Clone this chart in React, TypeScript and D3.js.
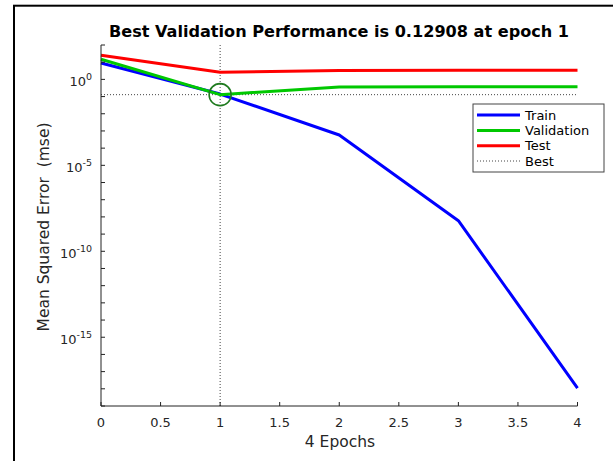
import React from "react";
import * as d3 from "d3";

// Epoch index and mean squared error per data split
const epochs = [0, 1, 2, 3, 4];
const trainMse = [9.0, 0.14, 5.8e-4, 6.0e-9, 1.1e-18];
const validationMse = [14.8, 0.12908, 0.36, 0.37, 0.37];
const testMse = [25, 2.6, 3.3, 3.4, 3.4];

const bestEpoch = 1;
const bestValue = 0.12908;

const xTicks = [0, 0.5, 1, 1.5, 2, 2.5, 3, 3.5, 4];
const yLabelExponents = [0, -5, -10, -15];

const seriesNames = ["Train", "Validation", "Test", "Best"];
const seriesColors = ["#0000ff", "#00c800", "#ff0000"];

const W = 613;
const H = 461;
const FONT = "'DejaVu Sans', sans-serif";

export default function App() {
  const x = d3.scaleLinear().domain([0, 4]).range([101, 577.5]);
  const y = d3.scaleLog().domain([1e-19, 1e2]).range([406, 45]);

  const line = d3
    .line<number>()
    .x((_, i) => x(epochs[i]))
    .y((d) => y(d));

  const decadeTicks = d3.range(-19, 3).map((e) => Math.pow(10, e));
  const series = [trainMse, validationMse, testMse];

  const legendX = 473;
  const legendY = 104;
  const legendRows = [115, 130.5, 145.7, 161];

  return (
    <svg
      width={W}
      height={H}
      style={{ position: "fixed", left: 0, top: 0, background: "#fff" }}
      fontFamily={FONT}
    >
      <rect x={0} y={0} width={W} height={H} fill="#fff" />
      {/* figure frame */}
      <rect x={14} y={5.7} width={W + 20} height={H + 20} fill="none" stroke="#000" strokeWidth={2} />

      {/* title */}
      <text x={339} y={37} textAnchor="middle" fontSize={16.1} fontWeight="bold" fill="#000">
        Best Validation Performance is 0.12908 at epoch 1
      </text>

      {/* best markers */}
      <line
        x1={x(0)}
        x2={x(4)}
        y1={y(bestValue)}
        y2={y(bestValue)}
        stroke="#444"
        strokeWidth={1}
        strokeDasharray="1,2"
      />
      <line
        x1={x(bestEpoch)}
        x2={x(bestEpoch)}
        y1={y.range()[1]}
        y2={y.range()[0]}
        stroke="#444"
        strokeWidth={1}
        strokeDasharray="1,2"
      />

      {/* series */}
      {series.map((s, i) => (
        <path
          key={i}
          d={line(s) || ""}
          fill="none"
          stroke={seriesColors[i]}
          strokeWidth={3}
          strokeLinejoin="round"
        />
      ))}

      <circle
        cx={x(bestEpoch)}
        cy={y(bestValue)}
        r={11}
        fill="none"
        stroke="#1e7a1e"
        strokeWidth={1.6}
      />

      {/* axes */}
      <line x1={x(0)} x2={x(4)} y1={406} y2={406} stroke="#222" strokeWidth={1} />
      <line x1={101} x2={101} y1={45} y2={406} stroke="#222" strokeWidth={1} />

      {xTicks.map((t) => (
        <g key={t}>
          <line x1={x(t)} x2={x(t)} y1={406} y2={402} stroke="#222" strokeWidth={1} />
          <text x={x(t)} y={427} textAnchor="middle" fontSize={13} fill="#262626">
            {t}
          </text>
        </g>
      ))}

      {decadeTicks.map((t, i) => (
        <line key={i} x1={101} x2={105} y1={y(t)} y2={y(t)} stroke="#222" strokeWidth={1} />
      ))}

      {yLabelExponents.map((e) => (
        <text key={e} x={92} y={y(Math.pow(10, e)) + 6.5} textAnchor="end" fontSize={13} fill="#262626">
          10
          <tspan dy={-6} fontSize={9.5}>
            {e}
          </tspan>
        </text>
      ))}

      <text x={340} y={447} textAnchor="middle" fontSize={15.5} fill="#262626">
        4 Epochs
      </text>
      <text
        transform="translate(48.5,227) rotate(-90)"
        textAnchor="middle"
        fontSize={15.5}
        fill="#262626"
        style={{ whiteSpace: "pre" }}
      >
        {"Mean Squared Error  (mse)"}
      </text>

      {/* legend */}
      <rect x={legendX} y={legendY} width={131} height={68} fill="#fff" stroke="#444" strokeWidth={1} />
      {seriesNames.map((name, i) => (
        <g key={name}>
          {i < 3 ? (
            <line x1={477} x2={520} y1={legendRows[i]} y2={legendRows[i]} stroke={seriesColors[i]} strokeWidth={3} />
          ) : (
            <line
              x1={477}
              x2={520}
              y1={legendRows[i]}
              y2={legendRows[i]}
              stroke="#444"
              strokeWidth={1}
              strokeDasharray="1,2"
            />
          )}
          <text x={525} y={legendRows[i] + 4.5} fontSize={13} fill="#000">
            {name}
          </text>
        </g>
      ))}
    </svg>
  );
}
